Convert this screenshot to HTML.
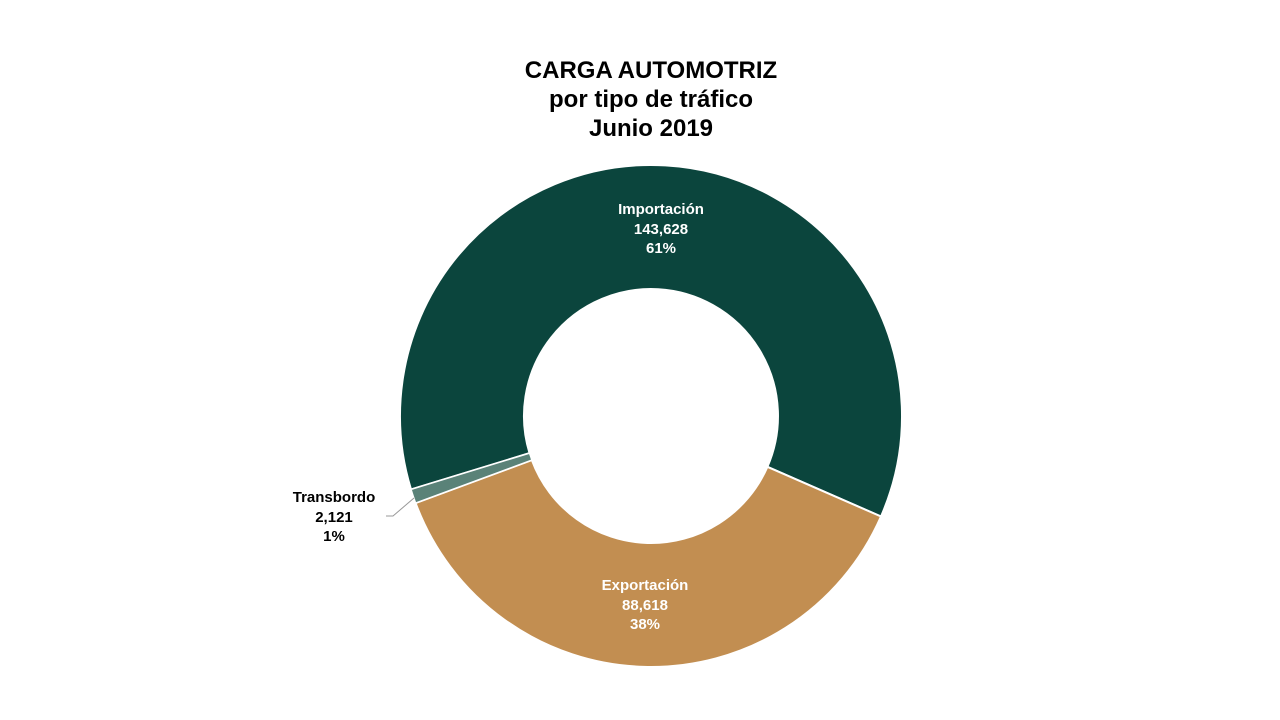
<!DOCTYPE html>
<html>
<head>
<meta charset="utf-8">
<style>
  html,body{margin:0;padding:0;background:#fff;}
  body{width:1280px;height:720px;overflow:hidden;}
  svg{display:block;}
  text{font-family:"Liberation Sans",sans-serif;font-weight:bold;}
</style>
</head>
<body>
<svg width="1280" height="720" viewBox="0 0 1280 720">
  <text x="651" y="78" text-anchor="middle" font-size="24" fill="#000">CARGA AUTOMOTRIZ</text>
  <text x="651" y="107" text-anchor="middle" font-size="24" fill="#000">por tipo de tráfico</text>
  <text x="651" y="136" text-anchor="middle" font-size="24" fill="#000">Junio 2019</text>

  <path d="M411.0,489.4 A251,251 0 1 1 881.0,516.5 L767.4,466.8 A127,127 0 1 0 529.5,453.1 Z" fill="#0b453d" stroke="#fff" stroke-width="2"/>
  <path d="M881.0,516.5 A251,251 0 0 1 415.6,503.1 L531.9,460.1 A127,127 0 0 0 767.4,466.8 Z" fill="#c28e51" stroke="#fff" stroke-width="2"/>
  <path d="M415.6,503.1 A251,251 0 0 1 411.0,489.4 L529.5,453.1 A127,127 0 0 1 531.9,460.1 Z" fill="#5a8278" stroke="#fff" stroke-width="1.5"/>

  <polyline points="386,516 393,516 414,498" fill="none" stroke="#999" stroke-width="1"/>

  <g font-size="15" fill="#fff" text-anchor="middle">
    <text x="661" y="214">Importación</text>
    <text x="661" y="234">143,628</text>
    <text x="661" y="253">61%</text>
    <text x="645" y="590">Exportación</text>
    <text x="645" y="610">88,618</text>
    <text x="645" y="629">38%</text>
  </g>
  <g font-size="15" fill="#000" text-anchor="middle">
    <text x="334" y="502">Transbordo</text>
    <text x="334" y="522">2,121</text>
    <text x="334" y="541">1%</text>
  </g>
</svg>
</body>
</html>
